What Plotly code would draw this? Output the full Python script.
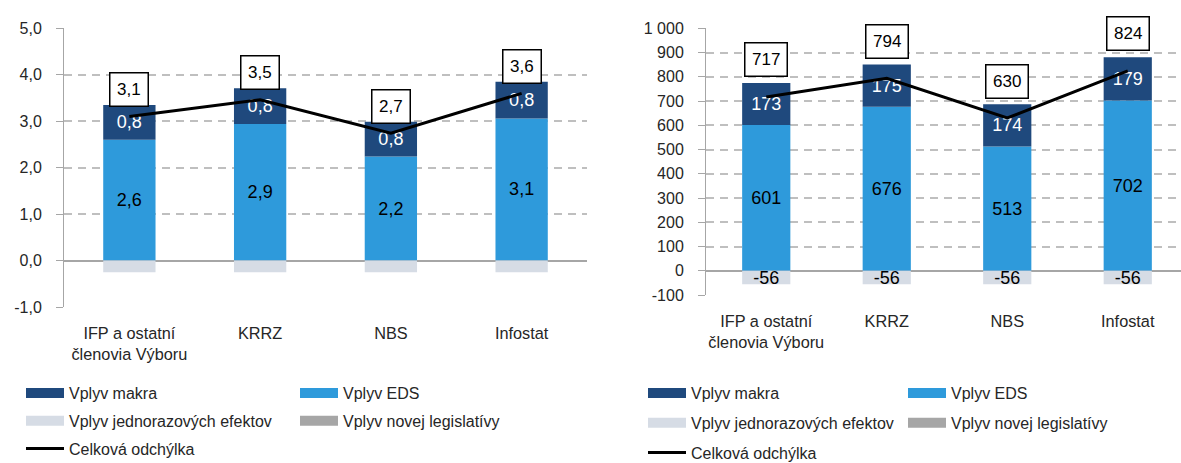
import plotly.graph_objects as go

# ---------------- data ----------------
categories = ["IFP a ostatní<br>členovia Výboru", "KRRZ", "NBS", "Infostat"]

series_names = ["Vplyv makra", "Vplyv EDS", "Vplyv jednorazových efektov",
                "Vplyv novej legislatívy", "Celková odchýlka"]

# left chart
l_eds = [2.6, 2.94, 2.24, 3.06]
l_makra = [0.75, 0.77, 0.75, 0.79]
l_jedn = [-0.25, -0.25, -0.25, -0.25]
l_nova = [0, 0, 0, 0]
l_total = [3.1, 3.46, 2.74, 3.6]
l_yticks = [-1, 0, 1, 2, 3, 4, 5]
l_yticklabels = ["-1,0", "0,0", "1,0", "2,0", "3,0", "4,0", "5,0"]

# right chart
r_eds = [601, 676, 513, 702]
r_makra = [173, 175, 174, 179]
r_jedn = [-56, -56, -56, -56]
r_nova = [0, 0, 0, 0]
r_total = [717, 794, 630, 824]
r_yticks = [-100, 0, 100, 200, 300, 400, 500, 600, 700, 800, 900, 1000]
r_yticklabels = ["-100", "0", "100", "200", "300", "400", "500", "600",
                 "700", "800", "900", "1 000"]

# ---------------- style ----------------
C_MAKRA = "#1F497D"
C_EDS = "#2E9ADB"
C_JEDN = "#D6DCE5"
C_NOVA = "#A6A6A6"
C_AXIS = "#A6A6A6"
C_GRID = "#BFBFBF"
TXT = "#262626"
FONT = "Liberation Sans, Arial, sans-serif"
W, H = 1181, 463


def fmt1(v):
    return f"{v:.1f}".replace(".", ",")


def fmt0(v):
    return f"{v:.0f}"


fig = go.Figure()


def add_chart(xa, ya, eds, makra, jedn, nova, total, fmt, show_jedn_text,
              leg_a, leg_b, yshift, gap_key):
    fig.add_trace(go.Bar(x=categories, y=eds, marker_color=C_EDS, name=series_names[1],
                         text=[fmt(v) for v in eds], textposition="inside",
                         insidetextanchor="middle", textangle=0,
                         textfont=dict(color="black", size=18),
                         xaxis=xa, yaxis=ya, showlegend=False))
    fig.add_trace(go.Bar(x=categories, y=makra, marker_color=C_MAKRA, name=series_names[0],
                         text=[fmt(v) for v in makra], textposition="inside",
                         insidetextanchor="middle", textangle=0,
                         textfont=dict(color="white", size=18),
                         xaxis=xa, yaxis=ya, showlegend=False))
    fig.add_trace(go.Bar(x=categories, y=jedn, marker_color=C_JEDN, name=series_names[2],
                         text=[fmt(v) for v in jedn] if show_jedn_text else None,
                         textposition="inside" if show_jedn_text else "none",
                         insidetextanchor="middle", textangle=0,
                         textfont=dict(color="black", size=18),
                         xaxis=xa, yaxis=ya, showlegend=False))
    fig.add_trace(go.Bar(x=categories, y=nova, marker_color=C_NOVA, name=series_names[3],
                         textposition="none",
                         xaxis=xa, yaxis=ya, showlegend=False))
    fig.add_trace(go.Scatter(x=categories, y=total, mode="lines", name=series_names[4],
                             line=dict(color="black", width=3),
                             xaxis=xa, yaxis=ya, legend=leg_a, legendrank=3,
                             legendgroup=gap_key + "tot"))
    # legend swatches for bar series
    for nm, col, leg, rank in [(series_names[0], C_MAKRA, leg_a, 1),
                               (series_names[2], C_JEDN, leg_a, 2),
                               (series_names[1], C_EDS, leg_b, 1),
                               (series_names[3], C_NOVA, leg_b, 2)]:
        fig.add_trace(go.Scatter(x=[None], y=[None], mode="lines", name=nm,
                                 line=dict(color=col, width=10),
                                 xaxis=xa, yaxis=ya, legend=leg, legendrank=rank,
                                 legendgroup=gap_key + nm, hoverinfo="skip"))
    for c, t in zip(categories, total):
        fig.add_annotation(x=c, y=t, xref=xa, yref=ya, text=fmt(t), showarrow=False,
                           yshift=yshift, yanchor="middle",
                           bordercolor="black", borderwidth=1.5, borderpad=6.5,
                           bgcolor="white", font=dict(size=17, color="black"))


add_chart("x", "y", l_eds, l_makra, l_jedn, l_nova, l_total, fmt1, False,
          "legend", "legend2", 27, "L")
add_chart("x2", "y2", r_eds, r_makra, r_jedn, r_nova, r_total, fmt0, True,
          "legend3", "legend4", 37, "R")

# ---------------- layout ----------------
l_dom = [1 - 307 / H, 1 - 28.3 / H]
r_dom = [1 - 295 / H, 1 - 28.3 / H]
l_xdom = [64 / W, 587 / W]
r_xdom = [706 / W, 1.0]
l_range = [-1, 5]
r_range = [-100, 1000]
l_xrange = [-0.5, len(categories) - 0.5]
r_xrange = [-0.5, len(categories) - 0.5 - 7 / 120.6]


def zero_pos(dom, rng):
    return dom[0] + (0 - rng[0]) / (rng[1] - rng[0]) * (dom[1] - dom[0])


boundaries = [i - 0.5 for i in range(len(categories) + 1)]


def yaxis_cfg(dom, rng, vals, labels, anchor, standoff):
    return dict(domain=dom, anchor=anchor, range=rng, tickmode="array",
                tickvals=vals, ticktext=labels, showline=True, linecolor=C_AXIS,
                linewidth=1, ticks="outside", ticklen=7, tickcolor=C_AXIS, tickwidth=1,
                showgrid=True, gridcolor=C_GRID, griddash="8px,6px", gridwidth=1.5,
                zeroline=True, zerolinecolor=C_AXIS, zerolinewidth=1.5,
                tickfont=dict(size=16, color=TXT), ticklabelstandoff=standoff,
                automargin=False, fixedrange=True)


def xaxis_cfg(dom, rng, anchor):
    return dict(domain=dom, anchor=anchor, type="category", range=rng, showline=False,
                ticks="", showgrid=False, zeroline=False,
                tickfont=dict(size=16.3, color=TXT), ticklabelstandoff=15,
                automargin=False, fixedrange=True)


def tick_axis_cfg(over, pos, rng):
    return dict(overlaying=over, anchor="free", position=pos, range=rng,
                tickmode="array", tickvals=boundaries, ticks="outside", ticklen=7,
                tickcolor=C_AXIS, tickwidth=1, showticklabels=False, showgrid=False,
                zeroline=False, showline=False, automargin=False, fixedrange=True)


leg_common = dict(xanchor="left", yanchor="top", orientation="v", itemwidth=38,
                  bgcolor="rgba(0,0,0,0)", borderwidth=0,
                  font=dict(size=16, color=TXT, family=FONT))

LEG_TOP = 1 - 376 / H

fig.update_layout(
    width=W, height=H, margin=dict(l=0, r=0, t=0, b=0, autoexpand=False),
    template="none", paper_bgcolor="white", plot_bgcolor="white",
    barmode="relative", bargap=0.6,
    font=dict(family=FONT, size=16, color=TXT),
    uniformtext=dict(minsize=18, mode="show"),
    xaxis=xaxis_cfg(l_xdom, l_xrange, "y"),
    yaxis=yaxis_cfg(l_dom, l_range, l_yticks, l_yticklabels, "x", 11),
    xaxis2=xaxis_cfg(r_xdom, r_xrange, "y2"),
    yaxis2=yaxis_cfg(r_dom, r_range, r_yticks, r_yticklabels, "x2", 11),
    xaxis3=tick_axis_cfg("x", zero_pos(l_dom, l_range), l_xrange),
    xaxis4=tick_axis_cfg("x2", zero_pos(r_dom, r_range), r_xrange),
    legend=dict(x=21 / W, y=LEG_TOP, tracegroupgap=4, **leg_common),
    legend2=dict(x=295 / W, y=LEG_TOP, tracegroupgap=4, **leg_common),
    legend3=dict(x=643 / W, y=LEG_TOP, tracegroupgap=6, **leg_common),
    legend4=dict(x=903 / W, y=LEG_TOP, tracegroupgap=6, **leg_common),
    showlegend=True,
)

fig.write_html("out.html", config={"displayModeBar": False},
               post_script="document.body.style.margin='0px';"
                           "document.documentElement.style.overflow='hidden';")
